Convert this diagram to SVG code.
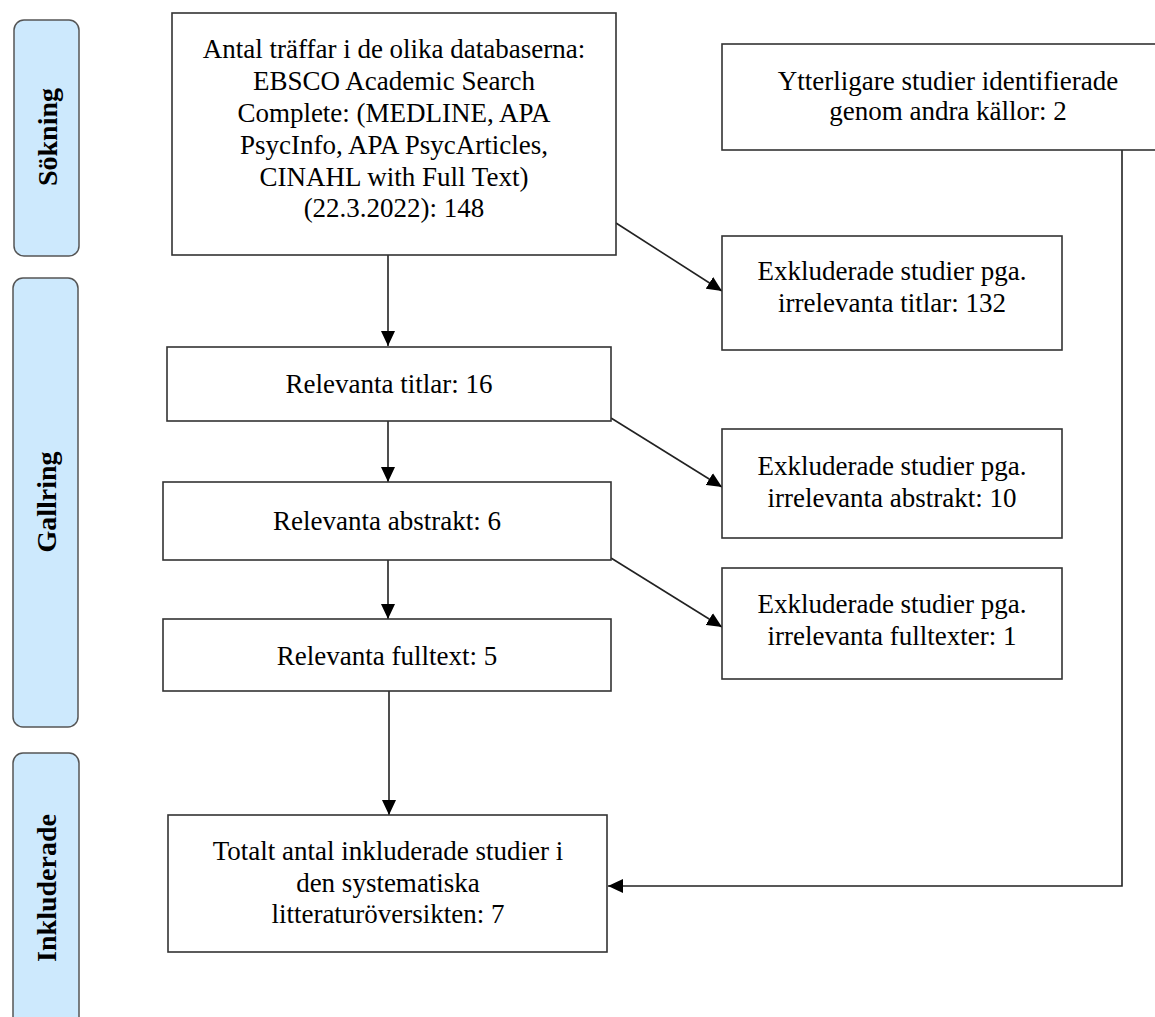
<svg xmlns="http://www.w3.org/2000/svg" width="1155" height="1017" viewBox="0 0 1155 1017">
<defs>
<marker id="ah" markerUnits="userSpaceOnUse" markerWidth="16" markerHeight="14" refX="15" refY="7" orient="auto">
<path d="M0,0 L15,7 L0,14 Z" fill="#000"/>
</marker>
<style>
.phase{fill:#cde9fd;stroke:#555;stroke-width:1.5}
.ptxt{font-family:"Liberation Serif",serif;font-weight:bold;font-size:28px;fill:#000;text-anchor:middle;dominant-baseline:central}
.box{fill:#fff;stroke:#333;stroke-width:1.6}
.txt{font-family:"Liberation Serif",serif;font-size:27px;fill:#000;text-anchor:middle}
.con{fill:none;stroke:#222;stroke-width:1.6}
</style>
</defs>
<rect width="1155" height="1017" fill="#fff"/>
<g id="phase-sokning">
<rect class="phase" x="14" y="20" width="65" height="236" rx="10"/>
<text class="ptxt" transform="translate(47,137) rotate(-90)">Sökning</text>
</g>
<g id="phase-gallring">
<rect class="phase" x="13" y="278" width="65" height="449" rx="10"/>
<text class="ptxt" transform="translate(46,502) rotate(-90)">Gallring</text>
</g>
<g id="phase-inkluderade">
<rect class="phase" x="13" y="753" width="66" height="290" rx="10"/>
<text class="ptxt" transform="translate(46,888) rotate(-90)">Inkluderade</text>
</g>
<g id="connectors">
<line class="con" x1="388" y1="255" x2="388" y2="346" marker-end="url(#ah)"/>
<line class="con" x1="388" y1="421" x2="388" y2="482" marker-end="url(#ah)"/>
<line class="con" x1="388" y1="560" x2="388" y2="619" marker-end="url(#ah)"/>
<line class="con" x1="389" y1="691" x2="389" y2="815" marker-end="url(#ah)"/>
<line class="con" x1="616" y1="223" x2="722" y2="291" marker-end="url(#ah)"/>
<line class="con" x1="611" y1="418" x2="722" y2="487" marker-end="url(#ah)"/>
<line class="con" x1="611" y1="558" x2="722" y2="627" marker-end="url(#ah)"/>
<polyline class="con" points="1122,150 1122,886 608,886" marker-end="url(#ah)"/>
</g>
<g id="node-search">
<rect class="box" x="172" y="13" width="444" height="242"/>
<text class="txt" x="394" y="58">Antal träffar i de olika databaserna:</text>
<text class="txt" x="394" y="90">EBSCO Academic Search</text>
<text class="txt" x="394" y="122">Complete: (MEDLINE, APA</text>
<text class="txt" x="394" y="154">PsycInfo, APA PsycArticles,</text>
<text class="txt" x="394" y="186">CINAHL with Full Text)</text>
<text class="txt" x="394" y="217">(22.3.2022): 148</text>
</g>
<g id="node-other">
<rect class="box" x="722" y="44" width="440" height="106"/>
<text class="txt" x="948" y="90">Ytterligare studier identifierade</text>
<text class="txt" x="948" y="120">genom andra källor: 2</text>
</g>
<g id="node-excl-titles">
<rect class="box" x="722" y="236" width="340" height="114"/>
<text class="txt" x="892" y="280">Exkluderade studier pga.</text>
<text class="txt" x="892" y="312">irrelevanta titlar: 132</text>
</g>
<g id="node-titles">
<rect class="box" x="167" y="347" width="444" height="74"/>
<text class="txt" x="389" y="393">Relevanta titlar: 16</text>
</g>
<g id="node-excl-abstracts">
<rect class="box" x="722" y="429" width="340" height="109"/>
<text class="txt" x="892" y="475">Exkluderade studier pga.</text>
<text class="txt" x="892" y="507">irrelevanta abstrakt: 10</text>
</g>
<g id="node-abstracts">
<rect class="box" x="163" y="482" width="448" height="78"/>
<text class="txt" x="387" y="530">Relevanta abstrakt: 6</text>
</g>
<g id="node-excl-fulltext">
<rect class="box" x="722" y="568" width="340" height="111"/>
<text class="txt" x="892" y="613">Exkluderade studier pga.</text>
<text class="txt" x="892" y="645">irrelevanta fulltexter: 1</text>
</g>
<g id="node-fulltext">
<rect class="box" x="163" y="619" width="448" height="72"/>
<text class="txt" x="387" y="665">Relevanta fulltext: 5</text>
</g>
<g id="node-included">
<rect class="box" x="168" y="815" width="439" height="137"/>
<text class="txt" x="388" y="860">Totalt antal inkluderade studier i</text>
<text class="txt" x="388" y="892">den systematiska</text>
<text class="txt" x="388" y="923">litteraturöversikten: 7</text>
</g>
</svg>
